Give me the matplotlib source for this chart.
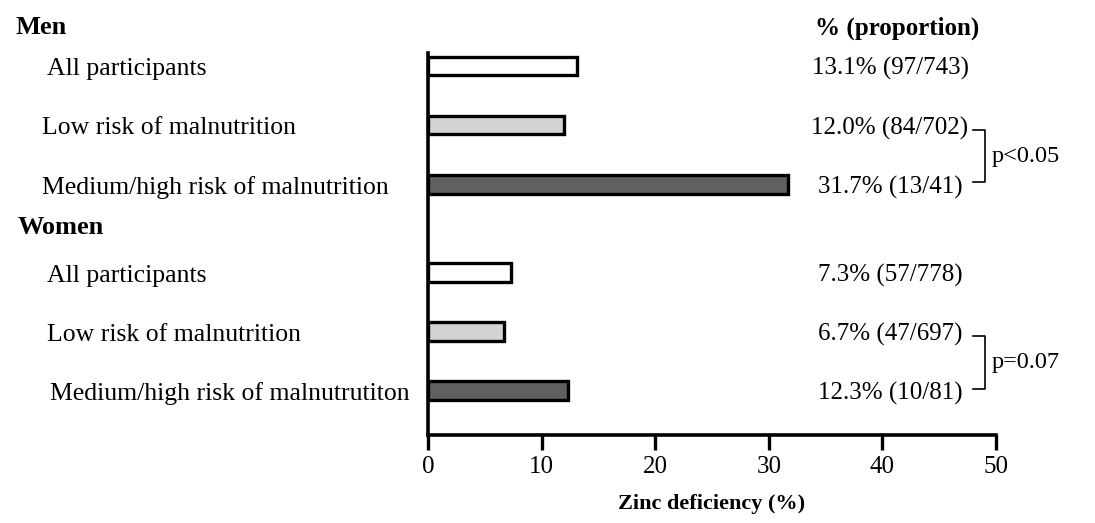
import numpy as np
import matplotlib.pyplot as plt
import matplotlib.transforms as mtransforms

plt.rcParams['font.family'] = ['Liberation Serif', 'DejaVu Serif']

# data
categories = ["All participants", "Low risk of malnutrition", "Medium/high risk of malnutrition",
              "All participants", "Low risk of malnutrition", "Medium/high risk of malnutrutiton"]
values = [13.1, 12.0, 31.7, 7.3, 6.7, 12.3]
counts = ["(97/743)", "(84/702)", "(13/41)", "(57/778)", "(47/697)", "(10/81)"]
colors = ["white", "#d3d3d3", "#606060", "white", "#d3d3d3", "#606060"]
positions = [0, 1, 2, 3.5, 4.5, 5.5]
label_x = [47, 42, 42, 47, 47, 50]   # pixel x of category labels
p_values = ["p<0.05", "p=0.07"]

W, H = 1095, 523
fig = plt.figure(figsize=(W / 100, H / 100), dpi=100)
ax = fig.add_axes([428 / W, (H - 435) / H, (996 - 428) / W, (435 - 53) / H])

ax.barh(positions, values, height=0.32, color=colors, edgecolor="black", linewidth=2.4, zorder=3)
ax.set_xlim(0, 50)
ax.set_ylim(6.25, -0.22)
ax.set_yticks([])
ax.set_xticks([0, 10, 20, 30, 40, 50])
ax.tick_params(axis="x", direction="out", length=11, width=2.4, labelsize=18, pad=4)
for s in ["top", "right"]:
    ax.spines[s].set_visible(False)
for s in ["left", "bottom"]:
    ax.spines[s].set_linewidth(2.6)
ax.set_xlabel("Zinc deficiency (%)", fontsize=16, fontweight="bold", labelpad=12)

trans = mtransforms.blended_transform_factory(fig.transFigure, ax.transData)

for cat, pos, lx in zip(categories, positions, label_x):
    ax.text(lx / W, pos + 0.05, cat, transform=trans, ha="left", va="center", fontsize=18.5)

for v, c, pos in zip(values, counts, positions):
    ax.text(890 / W, pos + 0.05, f"{v:.1f}% {c}", transform=trans, ha="center", va="center", fontsize=18)

# group headings
fig.text(15 / W, 1 - 28 / H, "Men", fontsize=19, fontweight="bold", va="center")
fig.text(18 / W, 1 - 228 / H, "Women", fontsize=19, fontweight="bold", va="center")
fig.text(897 / W, 1 - 28 / H, "% (proportion)", fontsize=18, fontweight="bold", va="center", ha="center")

# significance brackets
for (a, b), p in zip([(1, 2), (4.5, 5.5)], p_values):
    ya, yb = a + 0.08, b - 0.03
    ax.plot([973 / W, 985 / W, 985 / W, 973 / W], [ya, ya, yb, yb], transform=trans,
            color="black", linewidth=1.2, clip_on=False)
    ax.text(992 / W, (ya + yb) / 2, p, transform=trans, ha="left", va="center", fontsize=17.5)

fig.savefig("out.png", dpi=100)
